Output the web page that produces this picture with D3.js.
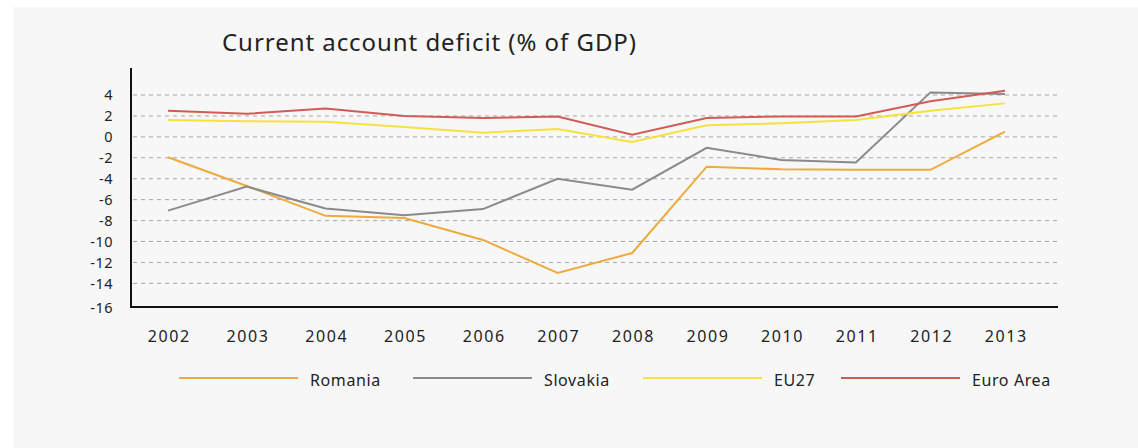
<!DOCTYPE html>
<html>
<head>
<meta charset="utf-8">
<script src="https://cdn.jsdelivr.net/npm/d3@7"></script>
<style>
  html, body { margin: 0; padding: 0; background: #ffffff; }
  svg { display: block; }
  text { font-family: "Noto Sans", "DejaVu Sans", sans-serif; fill: #222; }
</style>
</head>
<body>
<svg id="chart" width="1138" height="448"></svg>
<script>
// Years on the horizontal axis
const years = [2002, 2003, 2004, 2005, 2006, 2007, 2008, 2009, 2010, 2011, 2012, 2013];

// Current account balance, % of GDP
const romania  = [-1.95, -4.7, -7.55, -7.75, -9.85, -13.0, -11.1, -2.85, -3.1, -3.15, -3.15, 0.5];
const slovakia = [-7.05, -4.75, -6.85, -7.5, -6.9, -4.0, -5.05, -1.05, -2.2, -2.45, 4.25, 4.1];
const eu27     = [1.6, 1.5, 1.45, 0.95, 0.4, 0.75, -0.5, 1.1, 1.3, 1.6, 2.5, 3.2];
const euroArea = [2.5, 2.2, 2.7, 2.0, 1.8, 1.95, 0.2, 1.8, 1.95, 1.95, 3.4, 4.4];

const seriesNames  = ["Romania", "Slovakia", "EU27", "Euro Area"];
const seriesColors = ["#eeaa3c", "#8a8a8a", "#f5e23c", "#cf5c58"];
const yTicks = [4, 2, 0, -2, -4, -6, -8, -10, -12, -14, -16];

const series = [romania, slovakia, eu27, euroArea].map((values, i) => ({
  name: seriesNames[i], color: seriesColors[i], values
}));

const svg = d3.select("#chart");

// panel background
svg.append("rect")
  .attr("x", 13).attr("y", 7)
  .attr("width", 1138 - 13).attr("height", 448 - 7)
  .attr("fill", "#f7f7f7");

svg.append("text")
  .attr("x", 222).attr("y", 50.5)
  .attr("font-size", 24)
  .attr("letter-spacing", 0.95)
  .attr("fill", "#1a1a1a")
  .text("Current account deficit (% of GDP)");

const axisLeft = 131, axisRight = 1058;
// the year spacing narrows slightly after 2006
const x = d3.scaleLinear().domain([2002, 2006, 2013]).range([168, 483, 1005]);
const y = d3.scaleLinear().domain([-16, 4]).range([304.3, 95]);

// dashed gridlines
svg.append("g")
  .selectAll("line")
  .data(yTicks.filter(t => t > -16))
  .join("line")
  .attr("x1", axisLeft + 2).attr("x2", axisRight)
  .attr("y1", d => y(d)).attr("y2", d => y(d))
  .attr("stroke", "#a6a6a6")
  .attr("stroke-width", 1)
  .attr("stroke-dasharray", "4,4");

// y axis
const yAxis = d3.axisLeft(y).tickValues(yTicks).tickSize(0).tickPadding(18)
  .tickFormat(d => d < 0 ? "-" + Math.abs(d) : String(d));
const gy = svg.append("g").attr("transform", `translate(${axisLeft},0)`).call(yAxis);
gy.select(".domain").remove();
gy.selectAll("text")
  .attr("font-size", 14.5)
  .attr("letter-spacing", 0.5)
  .attr("fill", "#222")
  .attr("font-family", "'Noto Sans', sans-serif");
// the bottom label sits just under the axis line
gy.selectAll(".tick").filter(d => d === -16).select("text").attr("y", 4);
svg.append("line")
  .attr("x1", axisLeft).attr("x2", axisLeft)
  .attr("y1", 68).attr("y2", 308)
  .attr("stroke", "#111").attr("stroke-width", 2);

// x axis
const xAxis = d3.axisBottom(x).tickValues(years).tickFormat(d3.format("d"))
  .tickSize(0).tickPadding(0);
const gx = svg.append("g").attr("transform", "translate(0,307)").call(xAxis);
gx.select(".domain").remove();
gx.selectAll("text")
  .attr("y", 35).attr("dy", null)
  .attr("font-size", 16)
  .attr("letter-spacing", 1.6)
  .attr("dx", 0.8)
  .attr("fill", "#222")
  .attr("font-family", "'Noto Sans', sans-serif");
svg.append("line")
  .attr("x1", axisLeft - 1).attr("x2", axisRight)
  .attr("y1", 307).attr("y2", 307)
  .attr("stroke", "#111").attr("stroke-width", 2);

// series lines
const line = d3.line()
  .x((d, i) => x(years[i]))
  .y(d => y(d));

svg.append("g")
  .selectAll("path")
  .data(series)
  .join("path")
  .attr("d", s => line(s.values))
  .attr("fill", "none")
  .attr("stroke", s => s.color)
  .attr("stroke-width", 2);

// legend
const legendX = [179, 413, 643, 841];
const lg = svg.append("g").selectAll("g").data(series).join("g")
  .attr("transform", (s, i) => `translate(${legendX[i]},378)`);
lg.append("line")
  .attr("x1", 0).attr("x2", 119)
  .attr("stroke", s => s.color).attr("stroke-width", 2);
lg.append("text")
  .attr("x", 131).attr("y", 7.7)
  .attr("font-size", 16)
  .attr("letter-spacing", 0.6)
  .text(s => s.name);
</script>
</body>
</html>
